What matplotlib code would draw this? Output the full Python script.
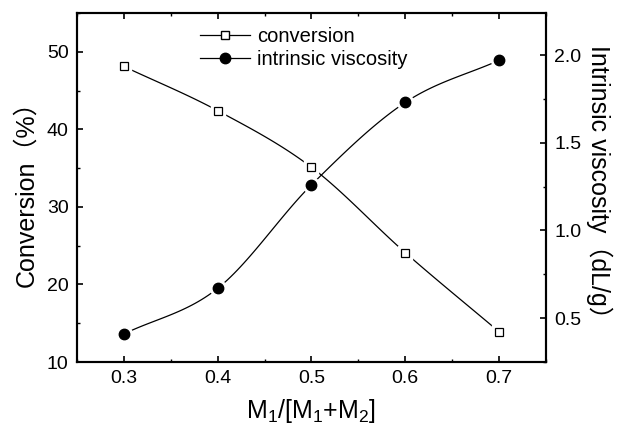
import numpy as np
import matplotlib.pyplot as plt
from matplotlib.lines import Line2D
from matplotlib.ticker import MultipleLocator

plt.rcParams['font.family'] = ['Liberation Sans', 'Noto Sans CJK SC', 'DejaVu Sans']
plt.rcParams['mathtext.default'] = 'regular'

# data
ratio = [0.3, 0.4, 0.5, 0.6, 0.7]
conversion = [48.1, 42.4, 35.1, 24.1, 13.9]
viscosity = [0.41, 0.67, 1.26, 1.73, 1.97]


def smooth(x, y, n=30):
    # Catmull-Rom curve through the points (only for drawing the line)
    x = np.asarray(x, float)
    y = np.asarray(y, float)
    px = np.concatenate([[2 * x[0] - x[1]], x, [2 * x[-1] - x[-2]]])
    py = np.concatenate([[2 * y[0] - y[1]], y, [2 * y[-1] - y[-2]]])
    t = np.linspace(0, 1, n)
    xs, ys = [], []
    for i in range(1, len(px) - 2):
        for p, out in ((px, xs), (py, ys)):
            p0, p1, p2, p3 = p[i - 1], p[i], p[i + 1], p[i + 2]
            out.extend(0.5 * (2 * p1 + (-p0 + p2) * t
                              + (2 * p0 - 5 * p1 + 4 * p2 - p3) * t ** 2
                              + (-p0 + 3 * p1 - 3 * p2 + p3) * t ** 3))
    return np.array(xs), np.array(ys)


fig = plt.figure(figsize=(6.19, 4.32), dpi=100)
ax = fig.add_axes([0.1244, 0.162, 0.7576, 0.808])
ax2 = ax.twinx()

lw = 0.9
sx, sy = smooth(ratio, conversion)
ax.plot(sx, sy, color='black', lw=lw, zorder=1)
ax.plot(ratio, conversion, ls='none', marker='s', ms=9.5, mfc='white', mec='white', zorder=2)
ax.plot(ratio, conversion, ls='none', marker='s', ms=6, mfc='white', mec='black', mew=0.9, zorder=3)

vx, vy = smooth(ratio, viscosity)
ax2.plot(vx, vy, color='black', lw=lw, zorder=1)
ax2.plot(ratio, viscosity, ls='none', marker='o', ms=11.5, mfc='white', mec='white', zorder=2)
ax2.plot(ratio, viscosity, ls='none', marker='o', ms=7.5, mfc='black', mec='black', zorder=3)

ax.set_xlim(0.25, 0.75)
ax.set_ylim(10, 55)
ax2.set_ylim(0.25, 2.24)

ax.set_xticks(ratio)
ax.set_yticks([10, 20, 30, 40, 50])
ax2.set_yticks([0.5, 1.0, 1.5, 2.0])
ax.xaxis.set_minor_locator(MultipleLocator(0.05))
ax.yaxis.set_minor_locator(MultipleLocator(5))
ax2.yaxis.set_minor_locator(MultipleLocator(0.25))

for a in (ax, ax2):
    for s in a.spines.values():
        s.set_linewidth(1.5)
    a.tick_params(which='major', direction='in', length=4, width=1.2, labelsize=14, pad=6)
    a.tick_params(which='minor', direction='in', length=2, width=1.0)
ax.tick_params(which='both', top=True)

ax.set_xlabel('M$_1$/[M$_1$+M$_2$]', fontsize=18, labelpad=7)
ax.set_ylabel('Conversion（%）', fontsize=18, labelpad=6)
ax2.set_ylabel('Intrinsic viscosity（dL/g）', fontsize=18, rotation=270, labelpad=22)

handles = [
    Line2D([], [], color='black', lw=lw, marker='s', ms=6, mfc='white', mec='black'),
    Line2D([], [], color='black', lw=lw, marker='o', ms=7.5, mfc='black', mec='black'),
]
ax2.legend(handles, ['conversion', 'intrinsic viscosity'], loc='upper left',
           bbox_to_anchor=(0.262, 0.96), frameon=False, fontsize=14.5,
           handlelength=2.5, handletextpad=0.35, borderpad=0, borderaxespad=0,
           labelspacing=0.2)

fig.savefig('out.png', dpi=100)
